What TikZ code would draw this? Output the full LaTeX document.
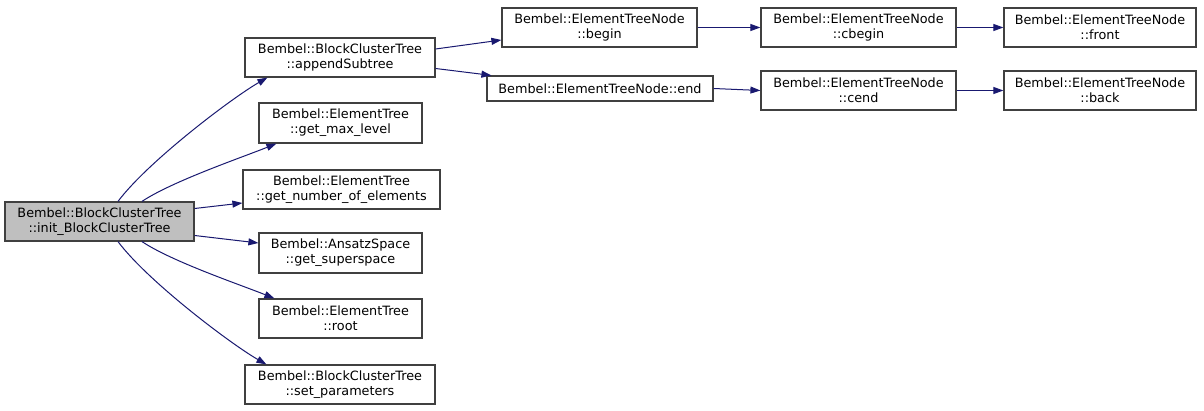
\documentclass[tikz,border=0pt]{standalone}
\usepackage{fontspec}
\setmainfont{DejaVu Sans}
\usetikzlibrary{arrows.meta}
\definecolor{edgeblue}{HTML}{191970}
\definecolor{boxgray}{HTML}{404040}
\tikzset{
	fnbox/.style={draw=boxgray, line width=1.2pt, fill=white, align=center, inner sep=0pt,
		minimum height=39pt, font=\fontsize{12.8}{15}\selectfont},
	mainbox/.style={fnbox, fill=black!25},
	callarrow/.style={draw=edgeblue, line width=1pt, -{Triangle[length=10pt,width=7pt]}}
}
\begin{document}
\begin{tikzpicture}[x=1pt, y=-1pt]
	\useasboundingbox (0, 0) rectangle (1204, 411);
	% boxes
	\node[mainbox, minimum width=189pt] (main) at (99.5, 221.5) {Bembel::BlockClusterTree\\::init\_BlockClusterTree};
	\node[fnbox, minimum width=190pt] (append) at (340, 57.5) {Bembel::BlockClusterTree\\::appendSubtree};
	\node[fnbox, minimum width=163pt, minimum height=40pt] (maxlevel) at (340.5, 123) {Bembel::ElementTree\\::get\_max\_level};
	\node[fnbox, minimum width=197pt] (numelem) at (341.5, 189.5) {Bembel::ElementTree\\::get\_number\_of\_elements};
	\node[fnbox, minimum width=163pt, minimum height=40pt] (superspace) at (340.5, 253) {Bembel::AnsatzSpace\\::get\_superspace};
	\node[fnbox, minimum width=163pt] (root) at (340.5, 318.5) {Bembel::ElementTree\\::root};
	\node[fnbox, minimum width=190pt] (setparam) at (340, 384.5) {Bembel::BlockClusterTree\\::set\_parameters};
	\node[fnbox, minimum width=195pt] (begin) at (599.5, 27.5) {Bembel::ElementTreeNode\\::begin};
	\node[fnbox, minimum width=226pt, minimum height=25pt] (end) at (600, 88.5) {Bembel::ElementTreeNode::end};
	\node[fnbox, minimum width=195pt] (cbegin) at (858.5, 27.5) {Bembel::ElementTreeNode\\::cbegin};
	\node[fnbox, minimum width=195pt] (cend) at (858.5, 90.5) {Bembel::ElementTreeNode\\::cend};
	\node[fnbox, minimum width=192pt] (front) at (1100, 27.5) {Bembel::ElementTreeNode\\::front};
	\node[fnbox, minimum width=192pt] (back) at (1100, 90.5) {Bembel::ElementTreeNode\\::back};
	% calls
	\draw[callarrow] ([xshift=18.5pt]main.north) .. controls +(30, -40) and +(-35, 20) .. ([xshift=23pt]append.south west);
	\draw[callarrow] ([xshift=42.5pt]main.north) .. controls +(30, -20) and +(-35, 14) .. ([xshift=18pt]maxlevel.south west);
	\draw[callarrow] ([yshift=13pt]main.east) -- ([yshift=-13.5pt]numelem.west);
	\draw[callarrow] ([yshift=-14pt]main.east) -- ([yshift=10pt]superspace.west);
	\draw[callarrow] ([xshift=42.5pt]main.south) .. controls +(30, 20) and +(-35, -14) .. ([xshift=16pt]root.north west);
	\draw[callarrow] ([xshift=18.5pt]main.south) .. controls +(30, 40) and +(-35, -20) .. ([xshift=22pt]setparam.north west);
	\draw[callarrow] ([yshift=8.5pt]append.east) -- ([yshift=-12.5pt]begin.west);
	\draw[callarrow] ([yshift=-11pt]append.east) -- ([xshift=5pt]end.north west);
	\draw[callarrow] (begin.east) -- (cbegin.west);
	\draw[callarrow] (end.east) -- (cend.west);
	\draw[callarrow] (cbegin.east) -- (front.west);
	\draw[callarrow] (cend.east) -- (back.west);
\end{tikzpicture}
\end{document}
